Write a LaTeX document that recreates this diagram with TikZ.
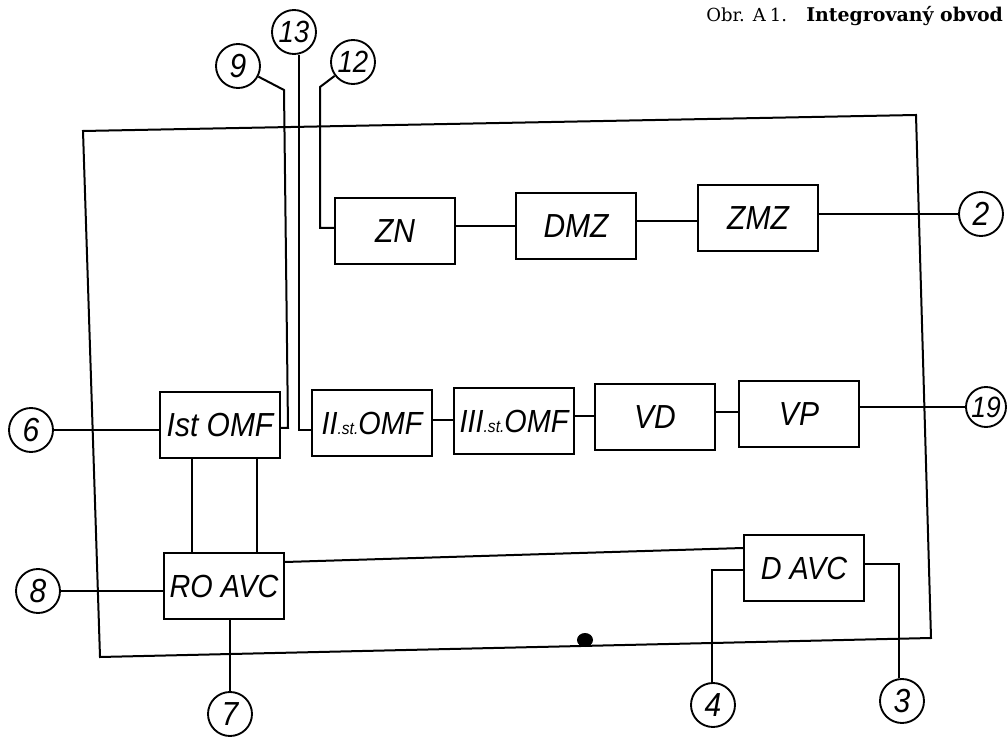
\documentclass[tikz,border=0pt]{standalone}
\usepackage{fontspec}
\setmainfont{Liberation Sans}
\newfontfamily\lab{Liberation Sans}[FakeStretch=0.9]
\newfontfamily\ttl{DejaVu Serif}
\usetikzlibrary{calc}
\begin{document}
\begin{tikzpicture}[x=0.75pt,y=-0.75pt,
  ln/.style={line width=1.5pt,line join=miter},
  blk/.style={draw,line width=1.5pt,rectangle,minimum width=90pt,minimum height=49.5pt,inner sep=0pt,font=\lab\itshape\fontsize{25}{25}\selectfont},
  pin/.style={draw,line width=1.4pt,circle,minimum size=33pt,inner sep=0pt,font=\lab\itshape\fontsize{25}{25}\selectfont},
  sm/.style={font=\lab\itshape\fontsize{24}{24}\selectfont},
  ttlstyle/.style={anchor=base west,inner sep=0pt}]
\useasboundingbox (0,0) rectangle (1007,737);

% title
\node[ttlstyle,font=\ttl\fontsize{13.5}{13.5}\selectfont] (title) at (706,22) {Obr.\hspace{6pt}A\hspace{3pt}1.};
\node[ttlstyle,font=\ttl\bfseries\fontsize{14.2}{14.2}\selectfont] (title2) at (806,22) {Integrovaný obvod};

% outer IC outline
\coordinate (oTL) at (83,131);
\coordinate (oTR) at (916,115);
\coordinate (oBR) at (931,638);
\coordinate (oBL) at (100,657);
\draw[ln] (oTL) -- (oTR) -- (oBR) -- (oBL) -- cycle;
\fill (585,640) ellipse (8 and 7);

% blocks
\node[blk] (ZN) at (395,231) {ZN};
\node[blk] (DMZ) at (576,226) {DMZ};
\node[blk] (ZMZ) at (758,218) {ZMZ};
\node[blk] (Ist) at (220,425) {Ist OMF};
\node[blk,sm] (II) at (372,423) {II{\fontsize{13}{13}\selectfont .st.}OMF};
\node[blk,sm] (III) at (514,421) {III{\fontsize{13}{13}\selectfont .st.}OMF};
\node[blk] (VD) at (655,417) {VD};
\node[blk] (VP) at (799,414) {VP};
\node[blk,sm] (RO) at (224,586) {RO AVC};
\node[blk,sm] (DAVC) at (804,568) {D AVC};

% pins
\node[pin] (p2) at (981,214) {2};
\node[pin,minimum size=30pt,font=\lab\itshape\fontsize{22}{22}\selectfont] (p19) at (986,407) {19};
\node[pin] (p6) at (31,430) {6};
\node[pin] (p8) at (38,591) {8};
\node[pin] (p7) at (230,714) {7};
\node[pin] (p9) at (238,66) {9};
\node[pin,font=\lab\itshape\fontsize{23}{23}\selectfont] (p13) at (294,32) {13};
\node[pin,font=\lab\itshape\fontsize{23}{23}\selectfont] (p12) at (353,62) {12};
\node[pin] (p4) at (713,705) {4};
\node[pin] (p3) at (902,701) {3};

% pin 9
\coordinate (c9b) at (288,428);
\coordinate (c9t) at (284,90);
\draw[ln] (Ist.east |- c9b) -- (c9b) -- (c9t) -- (p9);
% pin 13
\coordinate (c13) at (299,430);
\draw[ln] (II.west |- c13) -- (c13) -- (c13 |- p13.south);
% pin 12
\coordinate (c12b) at (320,228);
\coordinate (c12t) at (320,87);
\draw[ln] (ZN.west |- c12b) -- (c12b) -- (c12t) -- (p12);

% top row
\coordinate (z1) at ($(ZN.east)+(0,-5)$);
\draw[ln] (z1) -- (z1 -| DMZ.west);
\coordinate (z2) at ($(DMZ.east)+(0,-5)$);
\draw[ln] (z2) -- (z2 -| ZMZ.west);
\draw[ln] (ZMZ.east |- p2) -- (p2);

% middle row
\draw[ln] (p6) -- (p6 -| Ist.west);
\coordinate (m1) at ($(II.east)+(0,-3)$);
\draw[ln] (m1) -- (m1 -| III.west);
\coordinate (m2) at ($(III.east)+(0,-5)$);
\draw[ln] (m2) -- (m2 -| VD.west);
\coordinate (m3) at ($(VD.east)+(0,-5)$);
\draw[ln] (m3) -- (m3 -| VP.west);
\draw[ln] (VP.east |- p19) -- (p19);

% Ist OMF - RO AVC
\coordinate (v1) at ($(Ist.south)+(-28,0)$);
\draw[ln] (v1) -- (v1 |- RO.north);
\coordinate (v2) at ($(Ist.south)+(37,0)$);
\draw[ln] (v2) -- (v2 |- RO.north);

% RO AVC
\draw[ln] (p8) -- (p8 -| RO.west);
\draw[ln] (RO.south -| p7) -- (p7);
\draw[ln] ($(RO.east)+(0,-24)$) -- ($(DAVC.west)+(0,-20)$);

% D AVC
\coordinate (c4) at (712,570);
\draw[ln] (DAVC.west |- c4) -- (c4) -- (c4 |- p4.north);
\coordinate (c3) at (899,564);
\draw[ln] (DAVC.east |- c3) -- (c3) -- (c3 |- p3.north);
\end{tikzpicture}
\end{document}
